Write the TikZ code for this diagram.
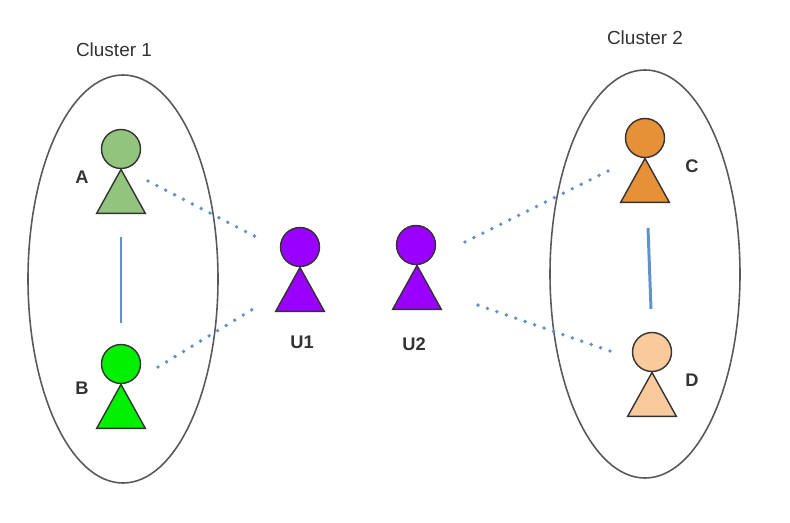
\documentclass[tikz,border=0pt]{standalone}
\usepackage{xcolor}
\usepackage{fontspec}
\setmainfont{Liberation Sans}
\usetikzlibrary{shapes.geometric}
\definecolor{agreen}{HTML}{93C47D}
\definecolor{bgreen}{HTML}{00F000}
\definecolor{corange}{HTML}{E69138}
\definecolor{dpeach}{HTML}{F9CB9C}
\definecolor{upurple}{HTML}{9900FF}
\definecolor{linkblue}{HTML}{5F92CF}
\tikzset{
  head/.style={circle, draw=black!80, line width=0.8pt, minimum size=0.78cm, inner sep=0pt},
  body/.style={isosceles triangle, isosceles triangle apex angle=58, shape border rotate=90,
    draw=black!80, line width=0.8pt, minimum height=0.88cm, inner sep=0pt, anchor=apex},
  cluster/.style={ellipse, draw=black!65, line width=0.9pt, minimum width=3.8cm, minimum height=8.16cm, inner sep=0pt},
  tag/.style={text=black!80, font=\fontsize{10.8}{12}\selectfont, inner sep=0pt},
  person tag/.style={tag, font=\fontsize{10.4}{12}\selectfont\bfseries},
  link/.style={linkblue, line width=1.7pt},
  weak/.style={linkblue, line width=2.2pt, line cap=round, dash pattern=on 0pt off 5.68pt}
}
\begin{document}
\begin{tikzpicture}
\useasboundingbox (0,0) rectangle (15.8,-10.46);

% clusters
\node[cluster] (cluster1) at (2.46,-5.58) {};
\node[cluster] (cluster2) at (12.9,-5.48) {};
\node[tag] (title1) at (2.28,-1.0) {Cluster 1};
\node[tag] (title2) at (12.9,-0.76) {Cluster 2};

% people
\node[body, fill=agreen] (bodyA) at (2.42,-3.36) {};
\node[head, fill=agreen] (headA) at (2.42,-2.98) {};
\node[body, fill=bgreen] (bodyB) at (2.42,-7.66) {};
\node[head, fill=bgreen] (headB) at (2.42,-7.28) {};
\node[body, fill=upurple] (bodyU1) at (6.0,-5.32) {};
\node[head, fill=upurple] (headU1) at (6.0,-4.94) {};
\node[body, fill=upurple] (bodyU2) at (8.34,-5.28) {};
\node[head, fill=upurple] (headU2) at (8.32,-4.9) {};
\node[body, fill=corange] (bodyC) at (12.9,-3.14) {};
\node[head, fill=corange] (headC) at (12.9,-2.76) {};
\node[body, fill=dpeach] (bodyD) at (13.04,-7.42) {};
\node[head, fill=dpeach] (headD) at (13.04,-7.04) {};

% names
\node[person tag] (nameA) at (1.64,-3.54) {A};
\node[person tag] (nameB) at (1.64,-7.76) {B};
\node[person tag] (nameU1) at (6.04,-6.84) {U1};
\node[person tag] (nameU2) at (8.28,-6.88) {U2};
\node[person tag] (nameC) at (13.84,-3.32) {C};
\node[person tag] (nameD) at (13.84,-7.6) {D};

% free ends of the links
\coordinate (fromA) at (2.96,-3.62);
\coordinate (toA) at (5.24,-4.8);
\coordinate (fromB) at (3.16,-7.34);
\coordinate (toB) at (5.16,-6.12);
\coordinate (fromC) at (12.16,-3.42);
\coordinate (toC) at (9.26,-4.86);
\coordinate (fromD) at (12.2,-7.02);
\coordinate (toD) at (9.38,-6.04);
\coordinate (topCD) at (12.96,-4.56);
\coordinate (endCD) at (13.02,-6.18);

\draw[link, shorten >=0.42cm, shorten <=0.46cm] (bodyA.south) -- (headB.north);
\draw[link] (topCD) -- (endCD);
\draw[weak] (fromA) -- (toA);
\draw[weak] (fromB) -- (toB);
\draw[weak] (fromC) -- (toC);
\draw[weak] (fromD) -- (toD);
\end{tikzpicture}
\end{document}
